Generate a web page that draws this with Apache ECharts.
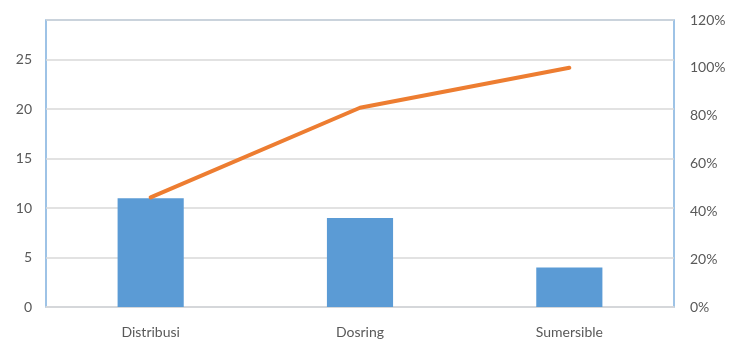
<!DOCTYPE html>
<html>
<head>
<meta charset="utf-8">
<style>
  html, body { margin: 0; padding: 0; background: #ffffff; }
  #chart { width: 740px; height: 341px; }
</style>
<script src="https://cdn.jsdelivr.net/npm/echarts@6/dist/echarts.min.js"></script>
</head>
<body>
<div id="chart"></div>
<script>
// Pareto data: counts per category and cumulative share
const categories = ['Distribusi', 'Dosring', 'Sumersible'];
const counts = [11, 9, 4];
const cumulativePercent = [45.8, 83.3, 100];

const leftMax = 29;
const leftInterval = 5;
const rightMax = 120;
const rightInterval = 20;

const textColor = '#595959';
const font = 'Lato, "Open Sans", sans-serif';

const chart = echarts.init(document.getElementById('chart'), null, { renderer: 'canvas' });

chart.setOption({
  animation: false,
  backgroundColor: '#ffffff',
  grid: {
    left: 46, right: 66, top: 20, bottom: 34,
    show: true,
    borderColor: '#7fb0de',
    borderWidth: 1.5,
    backgroundColor: 'transparent'
  },
  xAxis: {
    type: 'category',
    data: categories,
    axisLine: { show: true, lineStyle: { color: '#d9d9d9', width: 1.5 } },
    axisTick: { show: false },
    axisLabel: { color: textColor, fontFamily: font, fontSize: 14, margin: 18 }
  },
  yAxis: [
    {
      type: 'value',
      min: 0,
      max: leftMax,
      interval: leftInterval,
      axisLine: { show: false },
      axisTick: { show: false },
      splitLine: { lineStyle: { color: '#d9d9d9', width: 1.5 } },
      axisLabel: {
        color: textColor, fontFamily: font, fontSize: 14, margin: 14,
        formatter: v => (v % leftInterval === 0 ? String(v) : '')
      }
    },
    {
      type: 'value',
      min: 0,
      max: rightMax,
      interval: rightInterval,
      position: 'right',
      axisLine: { show: false },
      axisTick: { show: false },
      splitLine: { show: false },
      axisLabel: {
        color: textColor, fontFamily: font, fontSize: 14, margin: 16,
        formatter: '{value}%'
      }
    }
  ],
  series: [
    {
      type: 'bar',
      data: counts,
      yAxisIndex: 0,
      barWidth: '31.6%',
      itemStyle: { color: '#5b9bd5' }
    },
    {
      type: 'line',
      data: cumulativePercent,
      yAxisIndex: 1,
      symbol: 'none',
      lineStyle: { color: '#ed7d31', width: 4, cap: 'round', join: 'round' }
    }
  ]
});
</script>
</body>
</html>
